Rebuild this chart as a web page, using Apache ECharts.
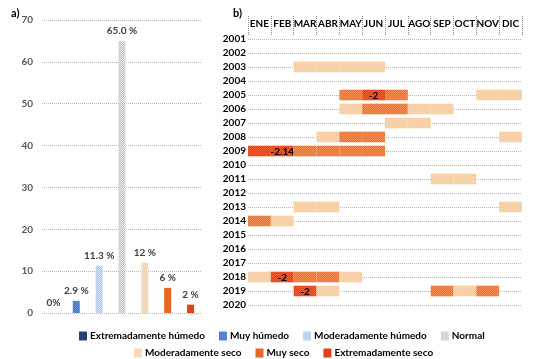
<!DOCTYPE html>
<html><head><meta charset="utf-8">
<script src="https://cdn.jsdelivr.net/npm/echarts@6/dist/echarts.min.js"></script>
<style>html,body{margin:0;padding:0;background:#fff}#c{width:541px;height:359px}</style>
</head><body><div id="c"></div>
<script>
// ---- data ----
const categories = ['Extremadamente húmedo','Muy húmedo','Moderadamente húmedo','Normal','Moderadamente seco','Muy seco','Extremadamente seco'];
const percentValues = [0, 2.9, 11.3, 65.0, 12, 6, 2];
const percentLabels = ['0%', '2.9 %', '11.3 %', '65.0 %', '12 %', '6 %', '2 %'];
const yTicks = [0, 10, 20, 30, 40, 50, 60, 70];
const months = ['ENE','FEB','MAR','ABR','MAY','JUN','JUL','AGO','SEP','OCT','NOV','DIC'];
const years = ['2001','2002','2003','2004','2005','2006','2007','2008','2009','2010','2011','2012','2013','2014','2015','2016','2017','2018','2019','2020'];
// 0 = none, 1 = moderadamente seco, 2 = muy seco, 3 = extremadamente seco
const droughtLevels = [
  [0,0,0,0,0,0,0,0,0,0,0,0], // 2001
  [0,0,0,0,0,0,0,0,0,0,0,0], // 2002
  [0,0,1,1,1,1,0,0,0,0,0,0], // 2003
  [0,0,0,0,0,0,0,0,0,0,0,0], // 2004
  [0,0,0,0,2,3,2,0,0,0,1,1], // 2005
  [0,0,0,0,1,2,2,1,1,0,0,0], // 2006
  [0,0,0,0,0,0,1,1,0,0,0,0], // 2007
  [0,0,0,1,2,2,0,0,0,0,0,1], // 2008
  [3,3,2,2,2,2,0,0,0,0,0,0], // 2009
  [0,0,0,0,0,0,0,0,0,0,0,0], // 2010
  [0,0,0,0,0,0,0,0,1,1,0,0], // 2011
  [0,0,0,0,0,0,0,0,0,0,0,0], // 2012
  [0,0,1,1,0,0,0,0,0,0,0,1], // 2013
  [2,1,0,0,0,0,0,0,0,0,0,0], // 2014
  [0,0,0,0,0,0,0,0,0,0,0,0], // 2015
  [0,0,0,0,0,0,0,0,0,0,0,0], // 2016
  [0,0,0,0,0,0,0,0,0,0,0,0], // 2017
  [1,3,2,2,1,0,0,0,0,0,0,0], // 2018
  [0,0,3,1,0,0,0,0,2,1,2,0], // 2019
  [0,0,0,0,0,0,0,0,0,0,0,0]  // 2020
];
const cellLabels = [['JUN','2005','-2'], ['FEB','2009','-2.14'], ['FEB','2018','-2'], ['MAR','2019','-2']];

// ---- styles ----
function pat(base, dot) {
  const cv = document.createElement('canvas'); cv.width = 2; cv.height = 2;
  const g = cv.getContext('2d');
  g.fillStyle = base; g.fillRect(0,0,2,2);
  g.fillStyle = dot; g.fillRect(0,0,1,1); g.fillRect(1,1,1,1);
  return {image: cv, repeat: 'repeat'};
}
const barColors = [
  pat('#1F3864','#2c4a80'),
  pat('#4472C4','#6a90d6'),
  pat('#A9C8EC','#d2e2f6'),
  pat('#bdbdbd','#eeeeee'),
  pat('#F9C9A2','#fde3cc'),
  pat('#EE7530','#e05a18'),
  pat('#EE4A20','#d93410')
];
const cellColors = [null, pat('#FFC68E','#FFD8B0'), pat('#EF7632','#F38A50'), pat('#E9411A','#F05A30')];
const FONT = 'Lato';

const cellData = [];
droughtLevels.forEach((row, yi) => row.forEach((lv, mi) => { if (lv) cellData.push([mi, yi, lv, '']); }));
cellLabels.forEach(([m, y, t]) => {
  const mi = months.indexOf(m), yi = years.indexOf(y);
  const d = cellData.find(c => c[0] === mi && c[1] === yi); if (d) d[3] = t;
});

const barSeries = categories.map((name, i) => ({
  name, type: 'bar', xAxisIndex: 0, yAxisIndex: 0,
  barWidth: 7, barGap: '-100%',
  itemStyle: {color: barColors[i]},
  label: {show: true, position: 'top', distance: 5, formatter: () => percentLabels[i],
          fontFamily: FONT, fontSize: 10, fontWeight: 'bold', color: '#404040'},
  data: categories.map((c, j) => j === i ? percentValues[i] : '-')
}));

const legendText = {fontFamily: FONT, fontSize: 10, fontWeight: 'bold', color: '#000', padding: [0,0,0,-2]};
const chart = echarts.init(document.getElementById('c'));
chart.setOption({
  animation: false,
  textStyle: {fontFamily: FONT},
  title: [
    {text: 'a)', left: 6, top: 3, textStyle: {fontSize: 11, fontWeight: 'bold', color: '#000', fontFamily: FONT}},
    {text: 'b)', left: 228, top: 3, textStyle: {fontSize: 11, fontWeight: 'bold', color: '#000', fontFamily: FONT}}
  ],
  legend: [
    {data: categories.slice(0,4), left: 74, top: 326, icon: 'rect', itemWidth: 8, itemHeight: 9, itemGap: 14, textStyle: legendText},
    {data: categories.slice(4), left: 129, top: 343, icon: 'rect', itemWidth: 8, itemHeight: 9, itemGap: 14, textStyle: legendText}
  ],
  grid: [
    {left: 42, right: 339, top: 20, bottom: 46},
    {left: 248, right: 19, top: 39, bottom: 54}
  ],
  xAxis: [
    {gridIndex: 0, type: 'category', data: categories, axisLine: {show: false}, axisTick: {show: false}, axisLabel: {show: false}},
    {gridIndex: 1, type: 'category', data: months, position: 'top', offset: 4, boundaryGap: true,
     axisLine: {show: false},
     axisTick: {show: true, length: 20, lineStyle: {type: 'dotted', color: '#888'}},
     axisLabel: {interval: 0, margin: 6, fontFamily: FONT, fontSize: 10, fontWeight: 'bold', color: '#000'},
     splitLine: {show: false}}
  ],
  yAxis: [
    {gridIndex: 0, type: 'value', min: yTicks[0], max: yTicks[yTicks.length-1], interval: yTicks[1]-yTicks[0],
     axisLine: {show: false}, axisTick: {show: false},
     axisLabel: {margin: 9, fontFamily: FONT, fontSize: 10, fontWeight: 'bold', color: '#595959'},
     splitLine: {lineStyle: {type: 'dotted', color: '#b8b8b8'}}},
    {gridIndex: 1, type: 'category', data: years, inverse: true, boundaryGap: false,
     axisLine: {show: false}, axisTick: {show: false},
     axisLabel: {interval: 0, margin: 2, fontFamily: FONT, fontSize: 10, fontWeight: 'bold', color: '#000'},
     splitLine: {show: true, interval: 0, lineStyle: {type: 'dotted', color: '#b8b8c4'}}}
  ],
  series: barSeries.concat([{
    type: 'custom', xAxisIndex: 1, yAxisIndex: 1, clip: false,
    data: cellData,
    renderItem: (params, api) => {
      const c = api.coord([api.value(0), api.value(1)]);
      const w = api.size([1, 0])[0];
      const h = api.size([0, 1])[1] * 0.76;
      const lv = api.value(2);
      const txt = cellData[params.dataIndex][3];
      const children = [{type: 'rect', shape: {x: c[0] - w/2, y: c[1] - h/2, width: w, height: h},
                         style: {fill: cellColors[lv]}}];
      if (txt) children.push({type: 'text', x: c[0], y: c[1] + 0.5,
        style: {text: txt, align: 'center', verticalAlign: 'middle', font: 'bold 10px ' + FONT, fill: '#000'}});
      return {type: 'group', children};
    }
  }])
});
</script></body></html>
